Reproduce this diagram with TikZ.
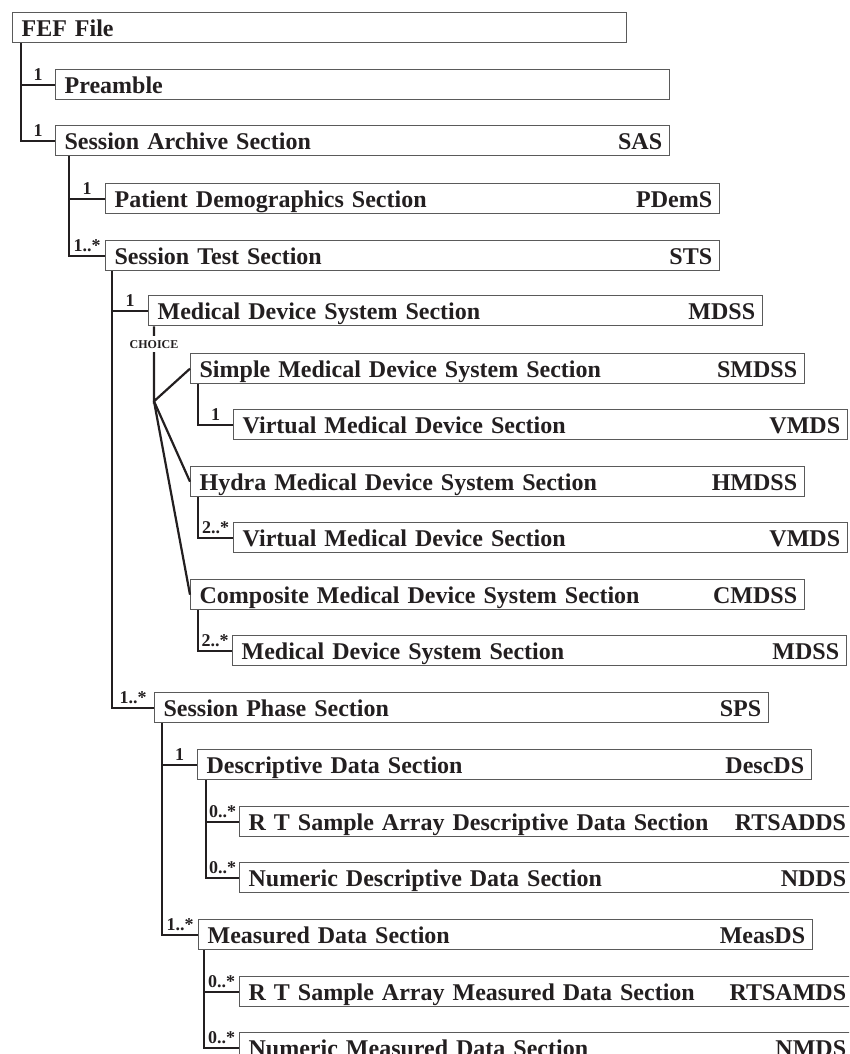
\documentclass[tikz,border=0pt]{standalone}
\usepackage{fontspec}
\setmainfont{Liberation Serif}
\usetikzlibrary{positioning,calc}
\definecolor{ink}{HTML}{231F20}
\definecolor{rim}{HTML}{5A5A5A}
\tikzset{
  sec/.style={draw=rim,line width=1.3pt,anchor=north west,minimum width=614pt,minimum height=30pt,
    text width=596pt,align=left,inner xsep=9pt,inner ysep=0pt,text height=24pt,text depth=6pt,
    font=\fontsize{24}{28}\selectfont\bfseries,text=ink},
  code/.style={anchor=east,xshift=-8pt,inner sep=0pt,text height=24pt,text depth=6pt,
    font=\fontsize{24}{28}\selectfont\bfseries,text=ink},
  link/.style={draw=ink,line width=2.2pt},
  mult/.style={anchor=base,yshift=4pt,inner sep=0pt,font=\fontsize{18}{20}\selectfont\bfseries,text=ink},
  choice/.style={fill=white,inner sep=4pt,font=\fontsize{12}{14}\selectfont\bfseries,text=ink}
}
\begin{document}
\begin{tikzpicture}[x=1pt,y=-1pt]
\useasboundingbox (0,0) rectangle (849,1054);
\clip (0,0) rectangle (849,1054);

% sections
\node[sec] (fef) at (12,12) {FEF File};
\node[sec] (pre) at (55,69) {Preamble};
\node[sec,label={[code]east:SAS}] (sas) at (55,125) {Session Archive Section};
\node[sec,label={[code]east:PDemS}] (pdems) at (105,183) {Patient Demographics Section};
\node[sec,label={[code]east:STS}] (sts) at (105,240) {Session Test Section};
\node[sec,label={[code]east:MDSS}] (mdss) at (148,295) {Medical Device System Section};
\node[sec,label={[code]east:SMDSS}] (smdss) at (190,353) {Simple Medical Device System Section};
\node[sec,label={[code]east:VMDS}] (vmdsa) at (233,409) {Virtual Medical Device Section};
\node[sec,label={[code]east:HMDSS}] (hmdss) at (190,466) {Hydra Medical Device System Section};
\node[sec,label={[code]east:VMDS}] (vmdsb) at (233,522) {Virtual Medical Device Section};
\node[sec,label={[code]east:CMDSS}] (cmdss) at (190,579) {Composite Medical Device System Section};
\node[sec,label={[code]east:MDSS}] (mdssb) at (232,635) {Medical Device System Section};
\node[sec,label={[code]east:SPS}] (sps) at (154,692) {Session Phase Section};
\node[sec,label={[code]east:DescDS}] (descds) at (197,749) {Descriptive Data Section};
\node[sec,label={[code]east:RTSADDS}] (rtsadds) at (239,806) {R T Sample Array Descriptive Data Section};
\node[sec,label={[code]east:NDDS}] (ndds) at (239,862) {Numeric Descriptive Data Section};
\node[sec,label={[code]east:MeasDS}] (measds) at (198,919) {Measured Data Section};
\node[sec,label={[code]east:RTSAMDS}] (rtsamds) at (239,976) {R T Sample Array Measured Data Section};
\node[sec,label={[code]east:NMDS}] (nmds) at (239,1032) {Numeric Measured Data Section};

% containment
\draw[link] ([xshift=9]fef.south west) |- node[mult,pos=.75]{1} (pre.west);
\draw[link] ([xshift=9]fef.south west) |- node[mult,pos=.75]{1} (sas.west);
\draw[link] ([xshift=14]sas.south west) |- node[mult,pos=.75]{1} (pdems.west);
\draw[link] ([xshift=14]sas.south west) |- node[mult,pos=.75]{1..*} (sts.west);
\draw[link] ([xshift=7]sts.south west) |- node[mult,pos=.75]{1} (mdss.west);
\draw[link] ([xshift=7]sts.south west) |- node[mult,pos=.75]{1..*} (sps.west);

% choice
\coordinate (fork) at ($(mdss.south west)+(6,75)$);
\draw[link] ([xshift=6]mdss.south west) -- (fork) -- (smdss.west);
\draw[link] (fork) -- (hmdss.west);
\draw[link] (fork) -- (cmdss.west);
\node[choice] (ch) at ($(mdss.south west)+(6,18)$) {CHOICE};

\draw[link] ([xshift=8]smdss.south west) |- node[mult,pos=.75]{1} (vmdsa.west);
\draw[link] ([xshift=8]hmdss.south west) |- node[mult,pos=.75]{2..*} (vmdsb.west);
\draw[link] ([xshift=8]cmdss.south west) |- node[mult,pos=.75]{2..*} (mdssb.west);

% phases
\draw[link] ([xshift=8]sps.south west) |- node[mult,pos=.75]{1} (descds.west);
\draw[link] ([xshift=8]sps.south west) |- node[mult,pos=.75]{1..*} (measds.west);
\draw[link] ([xshift=9]descds.south west) |- node[mult,pos=.75]{0..*} (rtsadds.west);
\draw[link] ([xshift=9]descds.south west) |- node[mult,pos=.75]{0..*} (ndds.west);
\draw[link] ([xshift=6]measds.south west) |- node[mult,pos=.75]{0..*} (rtsamds.west);
\draw[link] ([xshift=6]measds.south west) |- node[mult,pos=.75]{0..*} (nmds.west);
\end{tikzpicture}
\end{document}
